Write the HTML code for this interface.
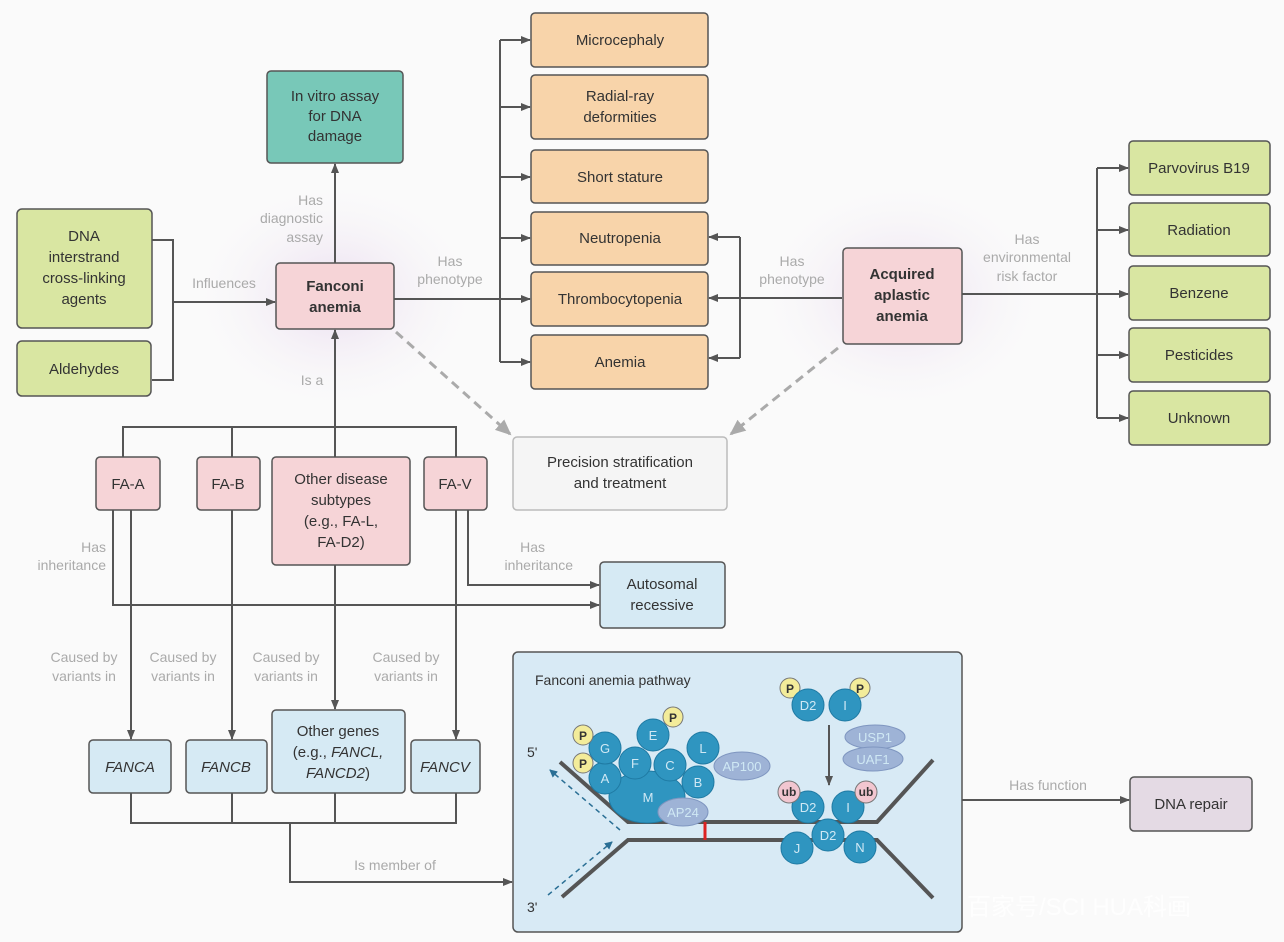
<!DOCTYPE html>
<html><head><meta charset="utf-8"><style>
html,body{margin:0;padding:0;background:#fafafa;}
svg{display:block;font-family:"Liberation Sans","Noto Sans CJK SC",sans-serif;}
.b{stroke:#555;stroke-width:1.5;}
.t{font-size:15px;fill:#333;text-anchor:middle;}
.l{font-size:14px;fill:#aaa;}
.ln{stroke:#555;stroke-width:2;fill:none;}
.c{fill:#2f95c0;stroke:#1f7aa3;stroke-width:1;}
.ct{font-size:13px;fill:#cfe8f4;text-anchor:middle;}
</style></head><body>
<svg width="1284" height="942" viewBox="0 0 1284 942" xmlns="http://www.w3.org/2000/svg">
<defs>
<marker id="a" markerWidth="10" markerHeight="10" refX="9" refY="5" orient="auto" markerUnits="userSpaceOnUse"><path d="M0,1 L10,5 L0,9 Z" fill="#555"/></marker>
<marker id="g" markerWidth="16" markerHeight="16" refX="14" refY="8" orient="auto" markerUnits="userSpaceOnUse"><path d="M0,1 L16,8 L0,15 Z" fill="#aaa"/></marker>
<marker id="d" markerWidth="8" markerHeight="8" refX="7" refY="4" orient="auto" markerUnits="userSpaceOnUse"><path d="M0,0 L8,4 L0,8 Z" fill="#2a6f95"/></marker>
<radialGradient id="glow"><stop offset="0" stop-color="#e8d8ee" stop-opacity="0.9"/><stop offset="1" stop-color="#fafafa" stop-opacity="0"/></radialGradient>
</defs>
<rect width="1284" height="942" fill="#fafafa"/>
<ellipse cx="335" cy="296" rx="150" ry="120" fill="url(#glow)"/>
<ellipse cx="902" cy="296" rx="150" ry="120" fill="url(#glow)"/>

<!-- connectors -->
<polyline class="ln" points="152,240 173,240 173,380 152,380"/>
<line class="ln" x1="173" y1="302" x2="275" y2="302" marker-end="url(#a)"/>
<line class="ln" x1="335" y1="263" x2="335" y2="164" marker-end="url(#a)"/>
<line class="ln" x1="394" y1="299" x2="530" y2="299" marker-end="url(#a)"/>
<line class="ln" x1="500" y1="40" x2="500" y2="362"/>
<g class="ln">
<line x1="500" y1="40" x2="530" y2="40" marker-end="url(#a)"/>
<line x1="500" y1="107" x2="530" y2="107" marker-end="url(#a)"/>
<line x1="500" y1="177" x2="530" y2="177" marker-end="url(#a)"/>
<line x1="500" y1="238" x2="530" y2="238" marker-end="url(#a)"/>
<line x1="500" y1="362" x2="530" y2="362" marker-end="url(#a)"/>
</g>
<line class="ln" x1="842" y1="298" x2="709" y2="298" marker-end="url(#a)"/>
<polyline class="ln" points="740,237 740,358"/>
<line class="ln" x1="740" y1="237" x2="709" y2="237" marker-end="url(#a)"/>
<line class="ln" x1="740" y1="358" x2="709" y2="358" marker-end="url(#a)"/>
<line class="ln" x1="962" y1="294" x2="1128" y2="294" marker-end="url(#a)"/>
<line class="ln" x1="1097" y1="168" x2="1097" y2="418"/>
<g class="ln">
<line x1="1097" y1="168" x2="1128" y2="168" marker-end="url(#a)"/>
<line x1="1097" y1="230" x2="1128" y2="230" marker-end="url(#a)"/>
<line x1="1097" y1="355" x2="1128" y2="355" marker-end="url(#a)"/>
<line x1="1097" y1="418" x2="1128" y2="418" marker-end="url(#a)"/>
</g>
<line x1="396" y1="332" x2="510" y2="434" stroke="#aaa" stroke-width="3" stroke-dasharray="9,6" marker-end="url(#g)"/>
<line x1="838" y1="348" x2="731" y2="434" stroke="#aaa" stroke-width="3" stroke-dasharray="9,6" marker-end="url(#g)"/>
<polyline class="ln" points="123,457 123,427 456,427 456,457"/>
<line class="ln" x1="232" y1="427" x2="232" y2="457"/>
<line class="ln" x1="335" y1="457" x2="335" y2="330" marker-end="url(#a)"/>
<polyline class="ln" points="113,510 113,605 599,605" marker-end="url(#a)"/>
<line class="ln" x1="131" y1="510" x2="131" y2="739" marker-end="url(#a)"/>
<line class="ln" x1="232" y1="510" x2="232" y2="739" marker-end="url(#a)"/>
<line class="ln" x1="335" y1="565" x2="335" y2="709" marker-end="url(#a)"/>
<polyline class="ln" points="468,510 468,585 599,585" marker-end="url(#a)"/>
<line class="ln" x1="456" y1="510" x2="456" y2="739" marker-end="url(#a)"/>
<polyline class="ln" points="131,793 131,823 456,823 456,793"/>
<line class="ln" x1="232" y1="793" x2="232" y2="823"/>
<line class="ln" x1="335" y1="793" x2="335" y2="823"/>
<polyline class="ln" points="290,823 290,882 512,882" marker-end="url(#a)"/>
<line class="ln" x1="962" y1="800" x2="1129" y2="800" marker-end="url(#a)"/>

<!-- labels -->
<g class="l">
<text x="323" y="205" text-anchor="end">Has</text>
<text x="323" y="223" text-anchor="end">diagnostic</text>
<text x="323" y="242" text-anchor="end">assay</text>
<text x="224" y="288" text-anchor="middle">Influences</text>
<text x="450" y="266" text-anchor="middle">Has</text>
<text x="450" y="284" text-anchor="middle">phenotype</text>
<text x="792" y="266" text-anchor="middle">Has</text>
<text x="792" y="284" text-anchor="middle">phenotype</text>
<text x="1027" y="244" text-anchor="middle">Has</text>
<text x="1027" y="262" text-anchor="middle">environmental</text>
<text x="1027" y="281" text-anchor="middle">risk factor</text>
<text x="312" y="385" text-anchor="middle">Is a</text>
<text x="106" y="552" text-anchor="end">Has</text>
<text x="106" y="570" text-anchor="end">inheritance</text>
<text x="545" y="552" text-anchor="end">Has</text>
<text x="573" y="570" text-anchor="end">inheritance</text>
<text x="84" y="662" text-anchor="middle">Caused by</text><text x="84" y="681" text-anchor="middle">variants in</text>
<text x="183" y="662" text-anchor="middle">Caused by</text><text x="183" y="681" text-anchor="middle">variants in</text>
<text x="286" y="662" text-anchor="middle">Caused by</text><text x="286" y="681" text-anchor="middle">variants in</text>
<text x="406" y="662" text-anchor="middle">Caused by</text><text x="406" y="681" text-anchor="middle">variants in</text>
<text x="395" y="870" text-anchor="middle">Is member of</text>
<text x="1048" y="790" text-anchor="middle">Has function</text>
</g>

<!-- boxes -->
<rect class="b" x="267" y="71" width="136" height="92" rx="4" fill="#78c8b8"/>
<text class="t" x="335" y="101">In vitro assay</text><text class="t" x="335" y="121">for DNA</text><text class="t" x="335" y="141">damage</text>
<rect class="b" x="17" y="209" width="135" height="119" rx="5" fill="#d9e6a2"/>
<text class="t" x="84" y="241">DNA</text><text class="t" x="84" y="262">interstrand</text><text class="t" x="84" y="283">cross-linking</text><text class="t" x="84" y="304">agents</text>
<rect class="b" x="17" y="341" width="134" height="55" rx="5" fill="#d9e6a2"/>
<text class="t" x="84" y="374">Aldehydes</text>
<rect class="b" x="276" y="263" width="118" height="66" rx="4" fill="#f6d4d7"/>
<text class="t" x="335" y="291" font-weight="bold">Fanconi</text><text class="t" x="335" y="312" font-weight="bold">anemia</text>
<g fill="#f8d4aa">
<rect class="b" x="531" y="13" width="177" height="54" rx="4"/>
<rect class="b" x="531" y="75" width="177" height="64" rx="4"/>
<rect class="b" x="531" y="150" width="177" height="53" rx="4"/>
<rect class="b" x="531" y="212" width="177" height="53" rx="4"/>
<rect class="b" x="531" y="272" width="177" height="54" rx="4"/>
<rect class="b" x="531" y="335" width="177" height="54" rx="4"/>
</g>
<text class="t" x="620" y="45">Microcephaly</text>
<text class="t" x="620" y="101">Radial-ray</text><text class="t" x="620" y="122">deformities</text>
<text class="t" x="620" y="182">Short stature</text>
<text class="t" x="620" y="243">Neutropenia</text>
<text class="t" x="620" y="304">Thrombocytopenia</text>
<text class="t" x="620" y="367">Anemia</text>
<rect class="b" x="843" y="248" width="119" height="96" rx="4" fill="#f6d4d7"/>
<text class="t" x="902" y="279" font-weight="bold">Acquired</text><text class="t" x="902" y="300" font-weight="bold">aplastic</text><text class="t" x="902" y="321" font-weight="bold">anemia</text>
<g fill="#d9e6a2">
<rect class="b" x="1129" y="141" width="141" height="54" rx="4"/>
<rect class="b" x="1129" y="203" width="141" height="53" rx="4"/>
<rect class="b" x="1129" y="266" width="141" height="54" rx="4"/>
<rect class="b" x="1129" y="328" width="141" height="54" rx="4"/>
<rect class="b" x="1129" y="391" width="141" height="54" rx="4"/>
</g>
<text class="t" x="1199" y="173">Parvovirus B19</text>
<text class="t" x="1199" y="235">Radiation</text>
<text class="t" x="1199" y="298">Benzene</text>
<text class="t" x="1199" y="360">Pesticides</text>
<text class="t" x="1199" y="423">Unknown</text>
<rect x="513" y="437" width="214" height="73" rx="4" fill="#f5f5f5" stroke="#bbb" stroke-width="1.5"/>
<text class="t" x="620" y="467">Precision stratification</text><text class="t" x="620" y="488">and treatment</text>
<g fill="#f6d4d7">
<rect class="b" x="96" y="457" width="64" height="53" rx="4"/>
<rect class="b" x="197" y="457" width="63" height="53" rx="4"/>
<rect class="b" x="272" y="457" width="138" height="108" rx="4"/>
<rect class="b" x="424" y="457" width="63" height="53" rx="4"/>
</g>
<text class="t" x="128" y="489">FA-A</text><text class="t" x="228" y="489">FA-B</text><text class="t" x="455" y="489">FA-V</text>
<text class="t" x="341" y="484">Other disease</text><text class="t" x="341" y="505">subtypes</text><text class="t" x="341" y="526">(e.g., FA-L,</text><text class="t" x="341" y="547">FA-D2)</text>
<rect class="b" x="600" y="562" width="125" height="66" rx="4" fill="#d6eaf4"/>
<text class="t" x="662" y="589">Autosomal</text><text class="t" x="662" y="610">recessive</text>
<g fill="#d6eaf4">
<rect class="b" x="89" y="740" width="82" height="53" rx="4"/>
<rect class="b" x="186" y="740" width="81" height="53" rx="4"/>
<rect class="b" x="272" y="710" width="133" height="83" rx="4"/>
<rect class="b" x="411" y="740" width="69" height="53" rx="4"/>
</g>
<g font-style="italic">
<text class="t" x="130" y="772">FANCA</text><text class="t" x="226" y="772">FANCB</text><text class="t" x="445" y="772">FANCV</text>
</g>
<text class="t" x="338" y="736">Other genes</text>
<text class="t" x="338" y="757">(e.g., <tspan font-style="italic">FANCL,</tspan></text>
<text class="t" x="338" y="778"><tspan font-style="italic">FANCD2</tspan>)</text>
<rect class="b" x="1130" y="777" width="122" height="54" rx="4" fill="#e4dae4"/>
<text class="t" x="1191" y="809">DNA repair</text>

<!-- pathway -->
<rect class="b" x="513" y="652" width="449" height="280" rx="5" fill="#d8eaf5"/>
<text x="535" y="685" font-size="14" fill="#333">Fanconi anemia pathway</text>
<text x="527" y="757" font-size="14" fill="#333">5'</text>
<text x="527" y="912" font-size="14" fill="#333">3'</text>
<polyline points="560,762 628,822 877,822 933,760" fill="none" stroke="#555" stroke-width="4"/>
<polyline points="562,897 628,840 877,840 933,898" fill="none" stroke="#555" stroke-width="4"/>
<line x1="705" y1="822" x2="705" y2="840" stroke="#d22" stroke-width="3"/>
<line x1="620" y1="830" x2="550" y2="770" stroke="#2a6f95" stroke-width="1.5" stroke-dasharray="5,4" marker-end="url(#d)"/>
<line x1="548" y1="895" x2="612" y2="842" stroke="#2a6f95" stroke-width="1.5" stroke-dasharray="5,4" marker-end="url(#d)"/>
<ellipse class="c" cx="647" cy="797" rx="38" ry="26"/>
<circle class="c" cx="605" cy="778" r="16"/>
<circle class="c" cx="605" cy="748" r="16"/>
<circle class="c" cx="653" cy="735" r="16"/>
<circle class="c" cx="635" cy="763" r="16"/>
<circle class="c" cx="670" cy="765" r="16"/>
<circle class="c" cx="703" cy="748" r="16"/>
<circle class="c" cx="698" cy="782" r="16"/>
<ellipse cx="742" cy="766" rx="28" ry="14" fill="#9eb3d6" stroke="#7f96c0"/>
<ellipse cx="683" cy="812" rx="25" ry="14" fill="#9eb3d6" stroke="#7f96c0"/>
<text class="ct" x="605" y="783">A</text><text class="ct" x="605" y="753">G</text><text class="ct" x="653" y="740">E</text>
<text class="ct" x="635" y="768">F</text><text class="ct" x="670" y="770">C</text><text class="ct" x="703" y="753">L</text>
<text class="ct" x="698" y="787">B</text><text class="ct" x="648" y="802">M</text>
<text class="ct" x="742" y="771">AP100</text><text class="ct" x="683" y="817">AP24</text>
<g fill="#f3ec9a" stroke="#777"><circle cx="583" cy="735" r="10"/><circle cx="583" cy="763" r="10"/><circle cx="673" cy="717" r="10"/><circle cx="790" cy="688" r="10"/><circle cx="860" cy="688" r="10"/></g>
<g font-size="12" font-weight="bold" fill="#333" text-anchor="middle"><text x="583" y="740">P</text><text x="583" y="768">P</text><text x="673" y="722">P</text><text x="790" y="693">P</text><text x="860" y="693">P</text></g>
<circle class="c" cx="808" cy="705" r="16"/><circle class="c" cx="845" cy="705" r="16"/>
<text class="ct" x="808" y="710">D2</text><text class="ct" x="845" y="710">I</text>
<line class="ln" x1="829" y1="725" x2="829" y2="785" stroke-width="1.5" marker-end="url(#a)"/>
<ellipse cx="875" cy="737" rx="30" ry="12" fill="#9eb3d6" stroke="#7f96c0"/>
<ellipse cx="873" cy="759" rx="30" ry="12" fill="#9eb3d6" stroke="#7f96c0"/>
<text class="ct" x="875" y="742">USP1</text><text class="ct" x="873" y="764">UAF1</text>
<circle class="c" cx="797" cy="848" r="16"/><circle class="c" cx="860" cy="847" r="16"/>
<circle class="c" cx="808" cy="807" r="16"/><circle class="c" cx="848" cy="807" r="16"/>
<circle class="c" cx="828" cy="835" r="16"/>
<text class="ct" x="797" y="853">J</text><text class="ct" x="860" y="852">N</text><text class="ct" x="808" y="812">D2</text><text class="ct" x="848" y="812">I</text><text class="ct" x="828" y="840">D2</text>
<g fill="#f2c6d0" stroke="#777"><circle cx="789" cy="792" r="11"/><circle cx="866" cy="792" r="11"/></g>
<g font-size="12" font-weight="bold" fill="#333" text-anchor="middle"><text x="789" y="796">ub</text><text x="866" y="796">ub</text></g>

<text x="967" y="915" font-size="24" fill="#ffffff" opacity="0.85">百家号/SCI HUA科画</text>
</svg>
</body></html>
